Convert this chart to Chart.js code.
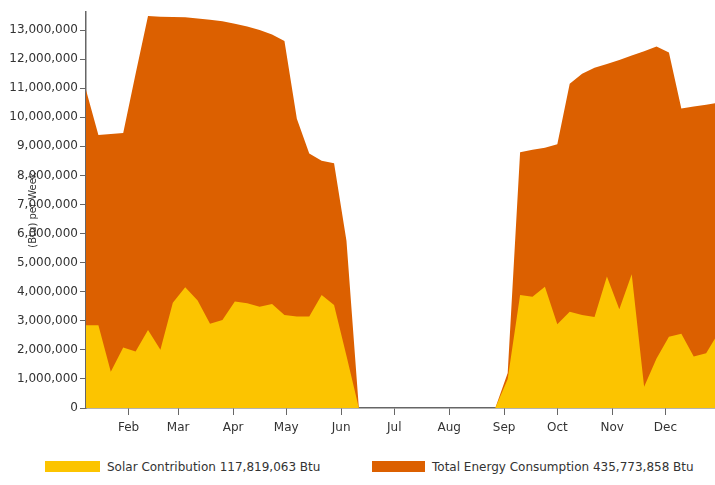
<!DOCTYPE html>
<html>
<head>
<meta charset="utf-8">
<script src="https://cdn.jsdelivr.net/npm/chart.js@4.4.0/dist/chart.umd.min.js"></script>
<style>
body{margin:0;background:#fff;font-family:"DejaVu Sans",sans-serif;}
#wrap{position:relative;width:715px;height:485px;}
#box{position:absolute;left:0;top:0;width:715px;height:450px;}
.leg{position:absolute;top:459px;font-size:12px;color:#333;white-space:nowrap;line-height:16px;}
.leg span{display:inline-block;width:55px;height:11px;vertical-align:-1px;margin-right:7px;}
</style>
</head>
<body>
<div id="wrap">
	<div id="box"><canvas id="energy_chart"></canvas></div>
	<div class="leg" style="left:45px"><span style="background:#fcc400"></span>Solar Contribution 117,819,063 Btu</div>
	<div class="leg" style="left:372px"><span style="background:#dc6000;width:53px"></span>Total Energy Consumption 435,773,858 Btu</div>
</div>
<script>
// week number of the year (each point = end of that week)
let weeks = [1,2,3,4,5,6,7,8,9,10,11,12,13,14,15,16,17,18,19,20,21,22,23,24,25,26,
	27,28,29,30,31,32,33,34,35,36,37,38,39,40,41,42,43,44,45,46,47,48,49,50,51,52];

// Btu per week
let solar = [2850000,2850000,1250000,2080000,1940000,2680000,2000000,3620000,4150000,3700000,
	2900000,3030000,3660000,3600000,3480000,3580000,3200000,3150000,3150000,3890000,
	3540000,1800000,0,0,0,0,0,0,0,0,
	0,0,0,0,1000000,3890000,3830000,4170000,2880000,3310000,
	3200000,3130000,4520000,3400000,4600000,730000,1700000,2450000,2550000,1770000,
	1880000,2600000];
let total = [10940000,9390000,9420000,9460000,11500000,13480000,13460000,13450000,13440000,13400000,
	13350000,13300000,13220000,13120000,13000000,12850000,12620000,9950000,8750000,8500000,
	8420000,5750000,0,0,0,0,0,0,0,0,
	0,0,0,0,1200000,8800000,8880000,8950000,9070000,11150000,
	11500000,11700000,11830000,11970000,12120000,12270000,12430000,12230000,10300000,10370000,
	10430000,10500000];

let month_labels = ['Jan','Feb','Mar','Apr','May','Jun','Jul','Aug','Sep','Oct','Nov','Dec'];
let month_start_day = [0,31,59,90,120,151,181,212,243,273,304,334];
let y_ticks = [0,1000000,2000000,3000000,4000000,5000000,6000000,7000000,8000000,9000000,10000000,11000000,12000000,13000000];
let y_title = '(Btu) per Week';

function to_points(values){
	return values.map((v,i)=>({ x: weeks[i]*7, y: v }));
}

let axis_title = {
	id: 'axis_title',
	afterDraw: function(chart){
		let ctx = chart.ctx;
		ctx.save();
		ctx.translate(33, 210);
		ctx.rotate(-Math.PI/2);
		ctx.font = '10px "DejaVu Sans"';
		ctx.fillStyle = '#333';
		ctx.textAlign = 'center';
		ctx.textBaseline = 'middle';
		ctx.fillText(y_title, 0, 0);
		ctx.restore();
	}
}

window.onload = () => {
	new Chart('energy_chart', {
		type: 'line',
		data: {
			datasets: [
				{
					label: 'Solar Contribution 117,819,063 Btu',
					data: to_points(solar),
					backgroundColor: '#fcc400',
					borderColor: '#fcc400',
					borderWidth: 0,
					pointRadius: 0,
					fill: 'origin',
					tension: 0
				},
				{
					label: 'Total Energy Consumption 435,773,858 Btu',
					data: to_points(total),
					backgroundColor: '#dc6000',
					borderColor: '#dc6000',
					borderWidth: 0,
					pointRadius: 0,
					fill: 'origin',
					tension: 0
				}
			]
		},
		options: {
			responsive: true,
			maintainAspectRatio: false,
			animation: false,
			layout: { padding: { top: 12, right: 0, left: 0, bottom: 0 } },
			plugins: { legend: { display: false }, tooltip: { enabled: false } },
			scales: {
				x: {
					type: 'linear',
					min: 7,
					max: 362,
					afterBuildTicks: (scale)=>{
						scale.ticks = month_start_day.filter(d=>d>=7 && d<=362).map(d=>({ value: d }));
					},
					afterFit: (scale)=>{ scale.height = 42; },
					ticks: {
						callback: (v)=>month_labels[month_start_day.indexOf(v)],
						color: '#333',
						font: { family: 'DejaVu Sans', size: 12 },
						padding: 6,
						maxRotation: 0,
						autoSkip: false
					},
					grid: { drawOnChartArea: false, tickLength: 7, color: '#666' },
					border: { color: '#666', width: 1.5 }
				},
				y: {
					min: 0,
					max: 13620000,
					afterBuildTicks: (scale)=>{
						scale.ticks = y_ticks.map(v=>({ value: v }));
					},
					afterFit: (scale)=>{ scale.width = 86; },
					ticks: {
						callback: (v)=>v.toLocaleString('en-US'),
						color: '#333',
						font: { family: 'DejaVu Sans', size: 12 },
						padding: 2
					},
					grid: { drawOnChartArea: false, tickLength: 6, color: '#666' },
					border: { color: '#666', width: 1.5 }
				}
			}
		},
		plugins: [axis_title]
	});
};
</script>
</body>
</html>
